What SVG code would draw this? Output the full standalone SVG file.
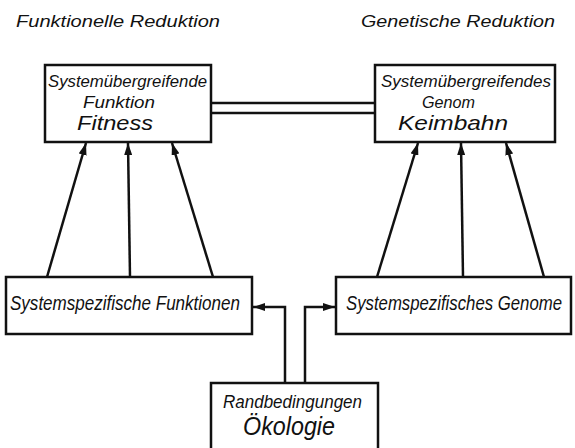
<svg xmlns="http://www.w3.org/2000/svg" width="575" height="448" viewBox="0 0 575 448">
  <style>
    .box { fill: #fff; stroke: #111; stroke-width: 2.5; }
    .ln { fill: none; stroke: #111; stroke-width: 2.5; }
    text { font-family: "Liberation Sans", "DejaVu Sans", sans-serif; font-style: italic; fill: #111; }
    .t16 { font-size: 16px; }
    .t17 { font-size: 17px; }
    .t18 { font-size: 18px; }
    .t20 { font-size: 20px; }
    .t21 { font-size: 21px; }
    .t25 { font-size: 25px; }
  </style>
  <defs>
    <marker id="head" viewBox="0 0 12 8" refX="12" refY="4" markerWidth="12" markerHeight="8" markerUnits="userSpaceOnUse" orient="auto">
      <path d="M0,0 L12,4 L0,8 Z" fill="#111"/>
    </marker>
  </defs>

  <rect width="575" height="448" fill="#fff"/>

  <!-- column headings -->
  <text class="t17" x="16" y="27" textLength="204" lengthAdjust="spacingAndGlyphs">Funktionelle Reduktion</text>
  <text class="t17" x="361" y="27" textLength="194" lengthAdjust="spacingAndGlyphs">Genetische Reduktion</text>

  <!-- connectors -->
  <g id="connectors">
    <!-- double link between the two upper boxes -->
    <line class="ln" x1="211" y1="103" x2="375" y2="103" stroke-width="2"/>
    <line class="ln" x1="211" y1="113" x2="375" y2="113" stroke-width="2"/>
    <!-- functions to fitness -->
    <line class="ln" x1="47" y1="277" x2="86" y2="143" marker-end="url(#head)"/>
    <line class="ln" x1="130" y1="277" x2="128" y2="143" marker-end="url(#head)"/>
    <line class="ln" x1="213" y1="277" x2="172" y2="143" marker-end="url(#head)"/>
    <!-- genome to germ line -->
    <line class="ln" x1="377" y1="277" x2="418" y2="143" marker-end="url(#head)"/>
    <line class="ln" x1="463" y1="277" x2="461" y2="143" marker-end="url(#head)"/>
    <line class="ln" x1="544" y1="277" x2="506" y2="143" marker-end="url(#head)"/>
    <!-- boundary conditions feeding both lower boxes -->
    <path class="ln" d="M285,383 V307 H253" marker-end="url(#head)"/>
    <path class="ln" d="M305,383 V307 H335" marker-end="url(#head)"/>
  </g>

  <g id="fitness">
    <rect class="box" x="45" y="65" width="166" height="77"/>
    <text class="t16" x="48" y="87" textLength="159" lengthAdjust="spacingAndGlyphs">Systemübergreifende</text>
    <text class="t16" x="83" y="108" textLength="72" lengthAdjust="spacingAndGlyphs">Funktion</text>
    <text class="t21" x="77" y="130" textLength="76" lengthAdjust="spacingAndGlyphs">Fitness</text>
  </g>

  <g id="keimbahn">
    <rect class="box" x="375" y="65" width="180" height="77"/>
    <text class="t16" x="381" y="87" textLength="170" lengthAdjust="spacingAndGlyphs">Systemübergreifendes</text>
    <text class="t16" x="422" y="108" textLength="53" lengthAdjust="spacingAndGlyphs">Genom</text>
    <text class="t21" x="398" y="130" textLength="110" lengthAdjust="spacingAndGlyphs">Keimbahn</text>
  </g>

  <g id="funktionen">
    <rect class="box" x="6" y="277" width="246" height="57"/>
    <text class="t20" x="10" y="310" textLength="230" lengthAdjust="spacingAndGlyphs">Systemspezifische Funktionen</text>
  </g>

  <g id="genome">
    <rect class="box" x="336" y="277" width="235" height="57"/>
    <text class="t20" x="346" y="310" textLength="216" lengthAdjust="spacingAndGlyphs">Systemspezifisches Genome</text>
  </g>

  <g id="oekologie">
    <rect class="box" x="211" y="383" width="167" height="70"/>
    <text class="t18" x="223" y="408" textLength="139" lengthAdjust="spacingAndGlyphs">Randbedingungen</text>
    <text class="t25" x="243" y="435" textLength="92" lengthAdjust="spacingAndGlyphs">Ökologie</text>
  </g>
</svg>
